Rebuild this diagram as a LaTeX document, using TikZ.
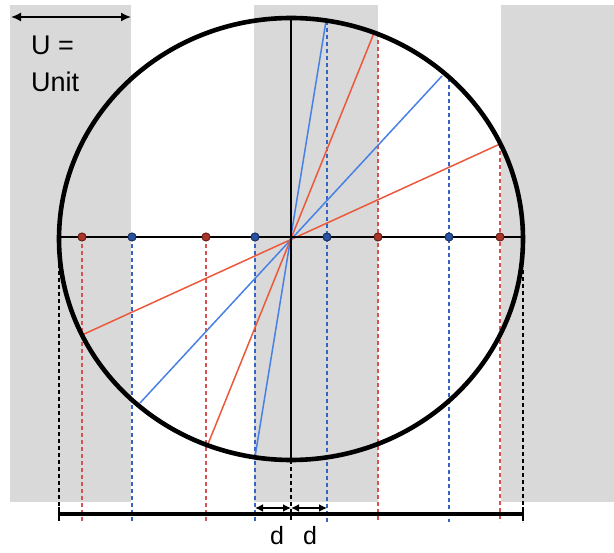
\documentclass[tikz,border=0pt]{standalone}
\usepackage{fontspec}
\setmainfont{Liberation Sans}
\usetikzlibrary{arrows.meta}
\definecolor{band}{RGB}{217,217,217}
\definecolor{redln}{RGB}{236,88,60}
\definecolor{blueln}{RGB}{72,128,228}
\definecolor{reddash}{RGB}{212,84,84}
\definecolor{bluedash}{RGB}{52,100,196}
\definecolor{reddot}{RGB}{170,52,40}
\definecolor{bluedot}{RGB}{40,82,160}
\tikzset{
  bandbox/.style={fill=band, draw=none},
  dsh/.style={dash pattern=on 4pt off 3pt, line width=1.1pt},
  rdsh/.style={dsh, draw=reddash},
  bdsh/.style={dsh, draw=bluedash},
  kdsh/.style={dsh, draw=black},
  rchord/.style={draw=redln, line width=1.5pt},
  bchord/.style={draw=blueln, line width=1.5pt},
  axisln/.style={draw=black, line width=1.2pt},
  rdot/.style={circle, fill=reddot, draw=reddot!60!black, line width=0.8pt, inner sep=0pt, minimum size=8pt},
  bdot/.style={circle, fill=bluedot, draw=bluedot!60!black, line width=0.8pt, inner sep=0pt, minimum size=8pt},
  lbl/.style={font=\fontsize{27}{30}\selectfont, inner sep=0pt},
  dlbl/.style={font=\fontsize{25}{28}\selectfont, inner sep=0pt},
  dim/.style={line width=1.8pt, {Latex[length=8pt,width=8pt]}-{Latex[length=8pt,width=8pt]}}
}
\begin{document}
\begin{tikzpicture}[x=1pt,y=-1pt]
\useasboundingbox (0,0) rectangle (614,553);
% bands
\fill[bandbox] (10,5) rectangle (131,502);
\fill[bandbox] (254,5) rectangle (378,502);
\fill[bandbox] (501,5) rectangle (614,502);
% key points
\coordinate (C) at (291,239);
\coordinate (H1) at (59,237);
\coordinate (H2) at (523,237);
\coordinate (Vt) at (291,18);
\coordinate (Vb) at (291,460);
% bottom coordinates
\coordinate (B59) at (59,522);
\coordinate (B82) at (82,522);
\coordinate (B132) at (132,522);
\coordinate (B205) at (206,522);
\coordinate (B254) at (255,522);
\coordinate (B291) at (291,522);
\coordinate (B327) at (327,522);
\coordinate (B378) at (378,522);
\coordinate (B449) at (449,522);
\coordinate (B500) at (500,522);
\coordinate (B523) at (523,522);
% tops of dashed lines
\coordinate (T59) at (59,264);
\coordinate (T523) at (523,270);
\coordinate (T327) at (327,21);
\coordinate (T378) at (378,33);
\coordinate (T449) at (449,78);
\coordinate (T500) at (500,144);
% dots
\node[rdot] (d1) at (82,237) {};
\node[bdot] (d2) at (132,237) {};
\node[rdot] (d3) at (206,237) {};
\node[bdot] (d4) at (255,237) {};
\node[bdot] (d5) at (327,237) {};
\node[rdot] (d6) at (378,237) {};
\node[bdot] (d7) at (449,237) {};
\node[rdot] (d8) at (500,237) {};
% dashed verticals
\draw[kdsh] (T59) -- (B59);
\draw[kdsh] (T523) -- (B523);
\draw[kdsh] (Vb) -- (B291);
\draw[rdsh] (d1.center) -- (B82);
\draw[bdsh] (d2.center) -- (B132);
\draw[rdsh] (d3.center) -- (B205);
\draw[bdsh] (d4.center) -- (B254);
\draw[bdsh] (T327) -- (B327);
\draw[rdsh] (T378) -- (B378);
\draw[bdsh] (T449) -- (B449);
\draw[rdsh] (T500) -- (B500);
% chords
\coordinate (r1a) at (82,335);
\coordinate (r1b) at (500,144);
\coordinate (b1a) at (140,403);
\coordinate (b1b) at (442,76);
\coordinate (r2a) at (208,444);
\coordinate (r2b) at (374,33);
\coordinate (b2a) at (255,457);
\coordinate (b2b) at (326,21);
\draw[rchord] (r1a) -- (r1b);
\draw[bchord] (b1a) -- (b1b);
\draw[rchord] (r2a) -- (r2b);
\draw[bchord] (b2a) -- (b2b);
% axes
\draw[axisln] (H1) -- (H2);
\draw[axisln] (Vt) -- (Vb);
% ellipse
\draw[line width=4.6pt] (C) ellipse [x radius=232, y radius=221];
% redraw dots on top
\foreach \n/\s in {d1/rdot,d2/bdot,d3/rdot,d4/bdot,d5/bdot,d6/rdot,d7/bdot,d8/rdot}
  \node[\s] at (\n) {};
% bottom line
\coordinate (L1) at (59,514);
\coordinate (L2) at (523,514);
\draw[line width=4pt] (L1) -- (L2);
\draw[line width=1.8pt] (59,507) -- (59,521);
\draw[line width=1.8pt] (523,507) -- (523,521);
% d arrows
\coordinate (dA) at (255,508);
\coordinate (dB) at (291,508);
\coordinate (dC) at (327,508);
\draw[dim] (dA) -- (dB);
\draw[dim] (dB) -- (dC);
\node[dlbl, anchor=base] (dl1) at (277,545) {d};
\node[dlbl, anchor=base] (dl2) at (310,545) {d};
% U arrow
\coordinate (U1) at (11,17);
\coordinate (U2) at (131,17);
\draw[line width=1.6pt, {Latex[length=10pt,width=9pt]}-{Latex[length=10pt,width=9pt]}] (U1) -- (U2);
\node[lbl, anchor=base west] (ueq) at (31,55) {U =};
\node[lbl, anchor=base west] (unit) at (31,92) {Unit};
\end{tikzpicture}
\end{document}
